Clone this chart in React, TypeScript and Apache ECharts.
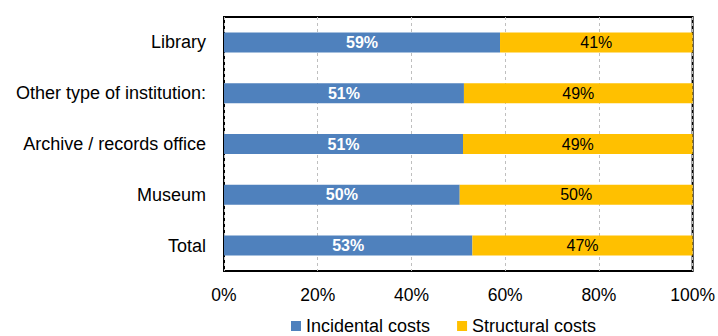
import React, { useEffect, useRef } from "react";
import * as echarts from "echarts";

const categories = [
  "Library",
  "Other type of institution:",
  "Archive / records office",
  "Museum",
  "Total",
];
const incidental = [58.9, 51.2, 51.0, 50.3, 53.0];
const structural = [41.1, 48.8, 49.0, 49.7, 47.0];
const xTicks = [0, 20, 40, 60, 80, 100];

const FONT = "Liberation Sans, Arial, sans-serif";

export default function App() {
  const ref = useRef<HTMLDivElement>(null);
  useEffect(() => {
    if (!ref.current) return;
    const chart = echarts.init(ref.current, undefined, { renderer: "svg" });
    chart.setOption({
      animation: false,
      textStyle: { fontFamily: FONT },
      grid: {
        left: 224,
        right: 25,
        top: 17,
        bottom: 65,
        show: true,
        borderColor: "#000",
        borderWidth: 2,
        containLabel: false,
      },
      legend: {
        left: 286,
        top: 312,
        itemWidth: 10,
        itemHeight: 10,
        itemGap: 27,
        icon: "rect",
        textStyle: { fontSize: 18, color: "#000", fontFamily: FONT },
        data: ["Incidental costs", "Structural costs"],
      },
      xAxis: {
        type: "value",
        min: 0,
        max: 100,
        interval: 20,
        axisLine: { show: false },
        axisTick: { show: false },
        splitLine: {
          show: true,
          lineStyle: { color: "#BFBFBF", type: [3, 3], width: 1 },
        },
        axisLabel: {
          fontSize: 17.5,
          color: "#000",
          margin: 15,
          formatter: (v: number) => (xTicks.includes(v) ? v + "%" : ""),
        },
      },
      yAxis: {
        type: "category",
        data: categories,
        inverse: true,
        axisLine: { show: false },
        axisTick: { show: false },
        axisLabel: { fontSize: 18, color: "#000", margin: 18 },
      },
      series: [
        {
          name: "Incidental costs",
          type: "bar",
          stack: "total",
          barWidth: 20,
          data: incidental,
          itemStyle: { color: "#4F81BD" },
          label: {
            show: true,
            position: "inside",
            color: "#fff",
            fontWeight: "bold",
            fontSize: 16,
            formatter: (p: any) => Math.round(p.value) + "%",
          },
        },
        {
          name: "Structural costs",
          type: "bar",
          stack: "total",
          barWidth: 20,
          data: structural,
          itemStyle: { color: "#FFC000" },
          label: {
            show: true,
            position: "inside",
            color: "#000",
            fontSize: 16,
            formatter: (p: any) => Math.round(p.value) + "%",
          },
        },
      ],
    });
    return () => chart.dispose();
  }, []);
  return <div ref={ref} style={{ width: 718, height: 336, position: "absolute", left: 0, top: 0 }} />;
}
